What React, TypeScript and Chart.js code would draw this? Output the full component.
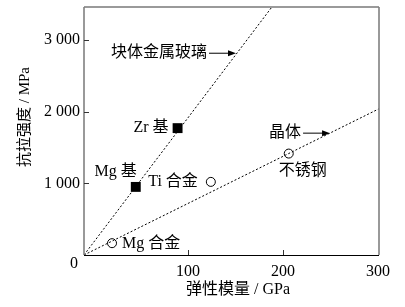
import React, { useEffect, useRef } from "react";
import { Chart, registerables } from "chart.js";

Chart.register(...registerables);

// ---- data ----
const bmgNames = ["Mg 基", "Zr 基"];
const bmgModulus = [45, 89];
const bmgStrength = [950, 1770];

const crystalNames = ["Mg 合金", "Ti 合金", "不锈钢"];
const crystalModulus = [20, 124, 206];
const crystalStrength = [165, 1020, 1415];

const bmgTrendX = [-9.5, 190];
const bmgTrendY = [0, 3490];
const crystalTrendX = [-9.5, 301];
const crystalTrendY = [0, 2040];

const bmgArrowTip = [150.5, 2815];
const crystalArrowTip = [249.5, 1700];

const xTicks = [100, 200, 300];
const yTicks = [1000, 2000, 3000];
const xTitle = "弹性模量 / GPa";
const yTitle = "抗拉强度 / MPa";
const bmgLabel = "块体金属玻璃";
const crystalLabel = "晶体";
const originLabel = "0";

// ---- layout / style ----
const FONT_FAMILY = '"Liberation Serif", "Noto Sans CJK SC", serif';
const bmgLabelLayout = [
  { dx: 1, dy: -15, align: "right" },
  { dx: -9, dy: 0, align: "right" },
];
const crystalLabelLayout = [
  { dx: 10, dy: 1, align: "left" },
  { dx: -13, dy: 0, align: "right" },
  { dx: 14, dy: 17, align: "center" },
];

const fmt = (v: number) => String(v).replace(/\B(?=(\d{3})+(?!\d))/g, " ");

const overlay = {
  id: "overlay",
  afterDraw(chart: any) {
    const { ctx, chartArea, scales } = chart;
    const xs = scales.x;
    const ys = scales.y;
    const { left, right, top, bottom } = chartArea;
    ctx.save();

    // frame
    ctx.strokeStyle = "#9a9a9a";
    ctx.lineWidth = 2;
    ctx.beginPath();
    ctx.moveTo(left, top);
    ctx.lineTo(right, top);
    ctx.stroke();
    ctx.strokeStyle = "#808080";
    ctx.lineWidth = 1.6;
    ctx.beginPath();
    ctx.moveTo(right, top);
    ctx.lineTo(right, bottom);
    ctx.moveTo(left, top);
    ctx.lineTo(left, bottom);
    ctx.stroke();
    ctx.strokeStyle = "#000";
    ctx.lineWidth = 1;
    ctx.beginPath();
    ctx.moveTo(left, bottom + 0.5);
    ctx.lineTo(right, bottom + 0.5);
    ctx.stroke();

    // inward ticks
    ctx.strokeStyle = "#333";
    ctx.lineWidth = 1;
    ctx.beginPath();
    xTicks.forEach((v) => {
      const px = Math.round(xs.getPixelForValue(v)) + 0.5;
      if (px < right - 2) {
        ctx.moveTo(px, bottom);
        ctx.lineTo(px, bottom - 5);
      }
    });
    yTicks.forEach((v) => {
      const py = Math.round(ys.getPixelForValue(v)) + 0.5;
      ctx.moveTo(left, py);
      ctx.lineTo(left + 5, py);
    });
    ctx.stroke();

    ctx.fillStyle = "#000";
    ctx.textBaseline = "middle";

    // origin label
    ctx.font = `16px ${FONT_FAMILY}`;
    ctx.textAlign = "center";
    ctx.fillText(originLabel, left - 10, bottom + 9);

    // axis titles
    ctx.font = `16px ${FONT_FAMILY}`;
    ctx.fillText(xTitle, 238, 290);
    ctx.save();
    ctx.translate(25, 117);
    ctx.rotate(-Math.PI / 2);
    ctx.font = `15px ${FONT_FAMILY}`;
    ctx.fillText(yTitle, 0, 0);
    ctx.restore();

    // point labels
    ctx.font = `16px ${FONT_FAMILY}`;
    bmgNames.forEach((n, i) => {
      const L = bmgLabelLayout[i];
      ctx.textAlign = L.align;
      ctx.fillText(n, xs.getPixelForValue(bmgModulus[i]) + L.dx, ys.getPixelForValue(bmgStrength[i]) + L.dy);
    });
    crystalNames.forEach((n, i) => {
      const L = crystalLabelLayout[i];
      ctx.textAlign = L.align;
      ctx.fillText(n, xs.getPixelForValue(crystalModulus[i]) + L.dx, ys.getPixelForValue(crystalStrength[i]) + L.dy);
    });

    // arrows with labels
    const arrow = (tip: number[], label: string) => {
      const tx = xs.getPixelForValue(tip[0]);
      const ty = ys.getPixelForValue(tip[1]);
      ctx.strokeStyle = "#000";
      ctx.lineWidth = 1;
      ctx.beginPath();
      ctx.moveTo(tx - 27, ty);
      ctx.lineTo(tx - 6, ty);
      ctx.stroke();
      ctx.beginPath();
      ctx.moveTo(tx, ty);
      ctx.lineTo(tx - 8, ty - 3);
      ctx.lineTo(tx - 8, ty + 3);
      ctx.closePath();
      ctx.fill();
      ctx.textAlign = "right";
      ctx.fillText(label, tx - 29, ty);
    };
    arrow(bmgArrowTip, bmgLabel);
    arrow(crystalArrowTip, crystalLabel);

    ctx.restore();
  },
};

export default function App() {
  const ref = useRef<HTMLCanvasElement>(null);
  useEffect(() => {
    document.body.style.margin = "0";
    const chart = new Chart(ref.current!, {
      type: "scatter",
      data: {
        datasets: [
          {
            type: "line",
            data: bmgTrendX.map((x, i) => ({ x, y: bmgTrendY[i] })),
            borderColor: "#000",
            borderWidth: 1,
            borderDash: [2, 2],
            pointRadius: 0,
            showLine: true,
            fill: false,
          } as any,
          {
            type: "line",
            data: crystalTrendX.map((x, i) => ({ x, y: crystalTrendY[i] })),
            borderColor: "#000",
            borderWidth: 1,
            borderDash: [2, 2],
            pointRadius: 0,
            showLine: true,
            fill: false,
          } as any,
          {
            data: bmgModulus.map((x, i) => ({ x, y: bmgStrength[i] })),
            pointStyle: "rect",
            pointRadius: 7,
            backgroundColor: "#000",
            borderColor: "#000",
            borderWidth: 0,
          },
          {
            data: crystalModulus.map((x, i) => ({ x, y: crystalStrength[i] })),
            pointStyle: "circle",
            pointRadius: 4.5,
            backgroundColor: "#fff",
            borderColor: "#000",
            borderWidth: 1,
          },
        ],
      },
      options: {
        animation: false,
        responsive: false,
        layout: { padding: { top: 1, right: 26, left: 0, bottom: 0 } },
        plugins: { legend: { display: false }, tooltip: { enabled: false } },
        scales: {
          x: {
            type: "linear",
            min: -9.5,
            max: 301,
            grid: { display: false, drawTicks: false },
            border: { display: false },
            ticks: {
              color: "#000",
              font: { family: FONT_FAMILY, size: 16 },
              padding: 7,
              callback: (v: any) => fmt(v),
            },
            afterBuildTicks: (s: any) => {
              s.ticks = xTicks.map((value) => ({ value }));
            },
            afterFit: (s: any) => {
              s.height = 52;
              s.paddingLeft = 0;
              s.paddingRight = 0;
            },
          },
          y: {
            type: "linear",
            min: 0,
            max: 3460,
            grid: { display: false, drawTicks: false },
            border: { display: false },
            ticks: {
              color: "#000",
              font: { family: FONT_FAMILY, size: 16 },
              padding: 4,
              callback: (v: any) => fmt(v),
            },
            afterBuildTicks: (s: any) => {
              s.ticks = yTicks.map((value) => ({ value }));
            },
            afterFit: (s: any) => {
              s.width = 84;
              s.paddingTop = 0;
              s.paddingBottom = 0;
            },
          },
        },
      } as any,
      plugins: [overlay],
    });
    return () => chart.destroy();
  }, []);
  return (
    <div style={{ width: 405, height: 307, background: "#fff" }}>
      <canvas ref={ref} width={405} height={307} />
    </div>
  );
}
